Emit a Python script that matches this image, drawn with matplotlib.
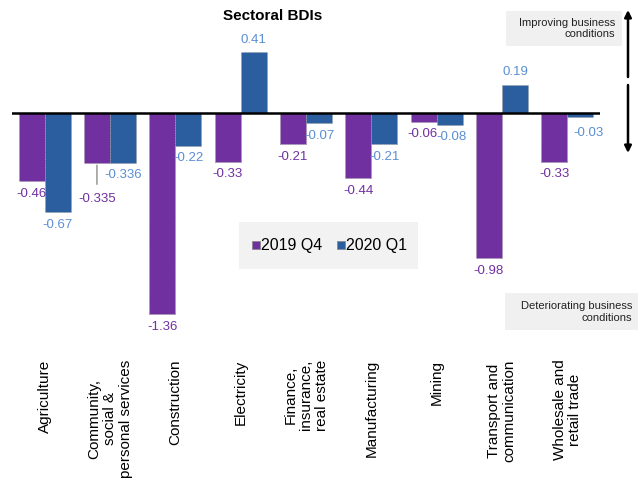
import numpy as np
import matplotlib.pyplot as plt
from matplotlib.lines import Line2D
from matplotlib.patches import Rectangle

# Sector names and BDI values
sectors = ["Agriculture", "Community,\nsocial &\npersonal services", "Construction",
           "Electricity", "Finance,\ninsurance,\nreal estate", "Manufacturing",
           "Mining", "Transport and\ncommunication", "Wholesale and\nretail trade"]
q4_2019 = [-0.46, -0.335, -1.36, -0.33, -0.21, -0.44, -0.06, -0.98, -0.33]
q1_2020 = [-0.67, -0.336, -0.22, 0.41, -0.07, -0.21, -0.08, 0.19, -0.03]
q4_labels = ["-0.46", "-0.335", "-1.36", "-0.33", "-0.21", "-0.44", "-0.06", "-0.98", "-0.33"]
q1_labels = ["-0.67", "-0.336", "-0.22", "0.41", "-0.07", "-0.21", "-0.08", "0.19", "-0.03"]

purple = '#7030A0'
blue = '#2B5E9E'
purple_txt = '#7030A0'
blue_txt = '#5B8ED3'

plt.rcParams['font.family'] = ['Liberation Sans', 'DejaVu Sans']

fig = plt.figure(figsize=(6.42, 4.88), dpi=100)
ax = fig.add_axes([12 / 642, 1 - 327.6 / 488, 588 / 642, 296 / 488])

x = np.arange(len(sectors))
w = 0.4
ax.bar(x - w / 2, q4_2019, w, color=purple, edgecolor='#9a9a9a', linewidth=0.7, linestyle=':')
ax.bar(x + w / 2, q1_2020, w, color=blue, edgecolor='#9a9a9a', linewidth=0.7, linestyle=':')
ax.axhline(0, color='black', linewidth=1.8, zorder=3)

ax.set_xlim(-0.5, 8.5)
ax.set_ylim(-1.45, 0.55)
ax.set_yticks([])
for s in ax.spines.values():
    s.set_visible(False)

ax.set_xticks(x)
ax.set_xticklabels(sectors, rotation=90, fontsize=11, va='top', ha='center',
                   multialignment='center', linespacing=1.15)
ax.tick_params(axis='x', length=0, pad=23)

# value labels
for i, (v, t) in enumerate(zip(q4_2019, q4_labels)):
    dx, dy = 0, (9 if v > 0 else -9)
    if i == 1:
        dy = -26
        ax.annotate('', xy=(x[i] - w / 2, v), xytext=(x[i] - w / 2, v - 0.165),
                    arrowprops=dict(arrowstyle='-', color='#a0a0a0', lw=1.2))
    if i == 6:
        dx = -1
    ax.annotate(t, (x[i] - w / 2, v), textcoords='offset points', xytext=(dx, dy),
                ha='center', va='center', fontsize=9.5, color=purple_txt)

for i, (v, t) in enumerate(zip(q1_2020, q1_labels)):
    dx, dy = 0, (9 if v > 0 else -9)
    if i == 6:
        dx = 1.5
    if i == 8:
        dx, dy = 6, -11
    ax.annotate(t, (x[i] + w / 2, v), textcoords='offset points', xytext=(dx, dy),
                ha='center', va='center', fontsize=9.5, color=blue_txt)

# legend on a grey panel
fig.patches.append(Rectangle((239 / 642, 1 - 269 / 488), 179 / 642, 47 / 488,
                             transform=fig.transFigure, facecolor='#F2F2F2', edgecolor='none'))
handles = [Line2D([], [], marker='s', linestyle='none', markersize=6,
                  markerfacecolor=purple, markeredgecolor='#8a8a8a', markeredgewidth=0.6),
           Line2D([], [], marker='s', linestyle='none', markersize=6,
                  markerfacecolor=blue, markeredgecolor='#8a8a8a', markeredgewidth=0.6)]
fig.legend(handles, ['2019 Q4', '2020 Q1'], loc='center',
           bbox_to_anchor=(329.5 / 642, 1 - 246 / 488), ncol=2, fontsize=11.5,
           frameon=False, borderpad=0, handlelength=0.5, handletextpad=0.1,
           columnspacing=0.9)

# title
fig.text(273 / 642, 1 - 16 / 488, 'Sectoral BDIs', ha='center', va='center',
         fontsize=11, fontweight='bold')

# side annotations
fig.patches.append(Rectangle((506 / 642, 1 - 46 / 488), 116 / 642, 35 / 488,
                             transform=fig.transFigure, facecolor='#F0F0F0', edgecolor='none'))
fig.text(615 / 642, 1 - 28.5 / 488, 'Improving business\nconditions', ha='right', va='center',
         fontsize=8, linespacing=1.2, color='#222222')
fig.patches.append(Rectangle((505 / 642, 1 - 330 / 488), 133 / 642, 37 / 488,
                             transform=fig.transFigure, facecolor='#F0F0F0', edgecolor='none'))
fig.text(632 / 642, 1 - 312 / 488, 'Deteriorating business\nconditions', ha='right', va='center',
         fontsize=8, linespacing=1.2, color='#222222')

arrow = dict(arrowstyle='-|>', color='black', lw=1.8, mutation_scale=10, shrinkA=0, shrinkB=0)
fig.add_artist(plt.Annotation('', xy=(628 / 642, 1 - 10 / 488), xytext=(628 / 642, 1 - 77 / 488),
                              xycoords='figure fraction', textcoords='figure fraction',
                              arrowprops=arrow))
fig.add_artist(plt.Annotation('', xy=(628 / 642, 1 - 153 / 488), xytext=(628 / 642, 1 - 85 / 488),
                              xycoords='figure fraction', textcoords='figure fraction',
                              arrowprops=arrow))

plt.savefig('out.png', dpi=100)
